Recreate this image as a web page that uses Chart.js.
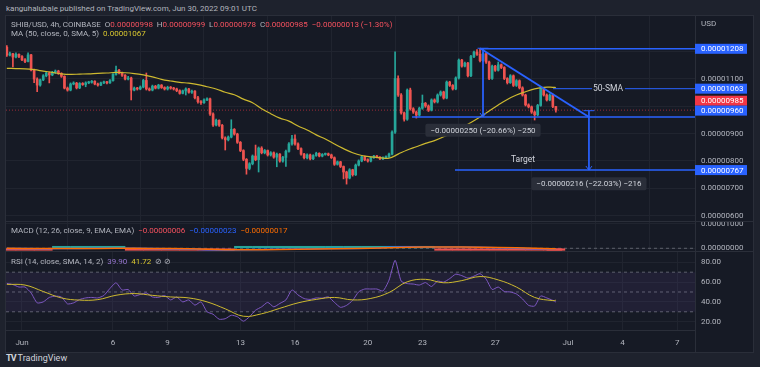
<!DOCTYPE html>
<html>
<head>
<meta charset="utf-8">
<title>SHIB/USD 4h</title>
<script src="https://cdn.jsdelivr.net/npm/chart.js@4.4.1/dist/chart.umd.min.js"></script>
<style>
  body { margin:0; width:760px; height:367px; background:#1e222d; overflow:hidden; position:relative;
         font-family: Roboto, "Noto Sans", sans-serif; color:#b2b5be; }
  .frame { position:absolute; left:5px; top:15px; width:749px; height:338px; background:#2a2e39; }
  canvas { position:absolute; background:#161a25; }
  .txt { position:absolute; font-size:8px; white-space:nowrap; line-height:10px; z-index:2; }
  .vsep { position:absolute; left:695px; top:330px; width:1px; height:22px; background:#2a2e39; z-index:2; }
  .red { color:#f7525f; } .yel { color:#d8c62f; } .blu { color:#2962ff; } .org { color:#ff6d00; } .pur { color:#9575cd; }
</style>
</head>
<body>
<div class="frame"></div>
<canvas id="price" width="747" height="205" style="left:6px;top:16px"></canvas>
<canvas id="macd" width="747" height="29" style="left:6px;top:222px"></canvas>
<canvas id="rsi" width="747" height="100" style="left:6px;top:252px"></canvas>
<div class="vsep"></div>

<div class="txt" style="left:6px;top:4px">kanguhalubale published on TradingView.com, Jun 30, 2022 09:01 UTC</div>
<div class="txt" style="left:11px;top:20px">SHIB/USD, 4h, COINBASE&nbsp; O<span class="red">0.00000998</span>&nbsp; H<span class="red">0.00000999</span>&nbsp; L<span class="red">0.00000978</span>&nbsp; C<span class="red">0.00000985&nbsp; &minus;0.00000013 (&minus;1.30%)</span></div>
<div class="txt" style="left:11px;top:29px">MA (50, close, 0, SMA, 5)&nbsp; <span class="yel">0.00001067</span></div>
<div class="txt" style="left:701px;top:19px">USD</div>
<div class="txt" style="left:11px;top:226px">MACD (12, 26, close, 9, EMA, EMA)&nbsp; <span class="red">&minus;0.00000006</span>&nbsp; <span class="blu">&minus;0.00000023</span>&nbsp; <span class="org">&minus;0.00000017</span></div>
<div class="txt" style="left:11px;top:257px">RSI (14, close, SMA, 14, 2)&nbsp; <span class="pur">39.90</span>&nbsp; <span class="yel">41.72</span>&nbsp; &#8856; &#8856;</div>
<div class="txt" style="left:6px;top:353px;font-size:9px;color:#d1d4dc"><b style="letter-spacing:-1px">TV</b> TradingView</div>

<script>
// price values are in units of 0.00000001 USD
const firstOpen = 1214;
const closes = [
  1185, 1190, 1178, 1188, 1180, 1168, 1162, 1186, 1131, 1098,
  1076, 1095, 1110, 1120, 1113, 1122, 1127, 1118, 1108, 1065,
  1058, 1080, 1083, 1066, 1082, 1078, 1084, 1086, 1090, 1080,
  1076, 1084, 1088, 1084, 1092, 1115, 1130, 1120, 1112, 1098,
  1102, 1058, 1065, 1062, 1069, 1093, 1062, 1058, 1072, 1065,
  1076, 1067, 1062, 1068, 1065, 1062, 1056, 1046, 1055, 1062,
  1050, 1054, 1030, 1016, 1012, 1022, 1026, 971, 931, 948,
  930, 884, 877, 887, 915, 898, 868, 838, 806, 773,
  790, 818, 805, 847, 830, 838, 822, 830, 814, 825,
  800, 813, 835, 862, 880, 862, 845, 825, 812, 822,
  808, 820, 828, 818, 824, 826, 822, 812, 788, 797,
  780, 760, 738, 768, 750, 785, 800, 815, 805, 800,
  812, 818, 814, 808, 812, 816, 825, 905, 1100, 1040,
  975, 952, 1058, 990, 978, 967, 992, 1010, 1000, 985,
  1022, 1015, 1040, 1051, 1029, 1087, 1075, 1062, 1102, 1167,
  1145, 1156, 1110, 1180, 1196, 1188, 1165, 1190, 1160, 1100,
  1145, 1130, 1150, 1140, 1100, 1085, 1110, 1075, 1092, 1066,
  1040, 1004, 997, 978, 968, 1002, 1065, 1040, 1022, 1040,
  998, 985
];
const highs = [
  1220, 1196, 1192, 1193, 1190, 1183, 1172, 1193, 1188, 1134,
  1102, 1098, 1114, 1124, 1124, 1126, 1131, 1130, 1121, 1110,
  1069, 1084, 1088, 1086, 1085, 1085, 1088, 1090, 1093, 1092,
  1083, 1087, 1091, 1090, 1096, 1118, 1145, 1133, 1123, 1114,
  1108, 1105, 1069, 1068, 1073, 1097, 1120, 1066, 1076, 1075,
  1079, 1078, 1070, 1072, 1071, 1068, 1065, 1059, 1058, 1066,
  1064, 1058, 1056, 1035, 1020, 1026, 1030, 1029, 975, 952,
  950, 933, 888, 891, 950, 918, 901, 871, 841, 809,
  794, 822, 858, 851, 852, 842, 840, 834, 833, 829,
  827, 817, 840, 867, 893, 895, 866, 848, 828, 826,
  825, 823, 832, 830, 827, 829, 829, 825, 815, 800,
  799, 782, 763, 772, 770, 789, 804, 818, 818, 808,
  815, 821, 821, 816, 815, 819, 829, 910, 1197, 1110,
  1045, 978, 1062, 1065, 994, 982, 996, 1040, 1013, 1004,
  1026, 1026, 1044, 1055, 1054, 1091, 1090, 1078, 1106, 1171,
  1170, 1160, 1159, 1184, 1200, 1205, 1209, 1194, 1193, 1163,
  1149, 1148, 1160, 1153, 1143, 1103, 1114, 1113, 1096, 1095,
  1070, 1043, 1008, 1000, 982, 1006, 1070, 1068, 1044, 1044,
  1043, 999
];
const lows = [
  1180, 1182, 1142, 1175, 1176, 1165, 1158, 1160, 1128, 1085,
  1052, 1072, 1092, 1106, 1084, 1110, 1118, 1115, 1104, 1062,
  1054, 1055, 1077, 1062, 1063, 1075, 1070, 1081, 1083, 1077,
  1072, 1074, 1081, 1080, 1082, 1090, 1112, 1117, 1108, 1095,
  1095, 1022, 1055, 1058, 1059, 1066, 1058, 1055, 1055, 1062,
  1062, 1064, 1058, 1058, 1061, 1058, 1052, 1043, 1044, 1040,
  1047, 1046, 1026, 1010, 1006, 1009, 1019, 966, 926, 928,
  926, 880, 840, 873, 884, 894, 864, 834, 801, 752,
  768, 786, 801, 760, 826, 826, 818, 818, 810, 779,
  796, 796, 780, 832, 858, 858, 841, 821, 808, 808,
  804, 805, 817, 815, 815, 821, 819, 809, 784, 785,
  776, 735, 716, 735, 745, 747, 782, 797, 801, 796,
  797, 809, 811, 805, 805, 809, 812, 822, 900, 1035,
  970, 945, 948, 985, 973, 956, 963, 988, 995, 980,
  982, 1011, 1011, 1036, 1025, 1026, 1071, 1058, 1059, 1098,
  1141, 1142, 1106, 1107, 1176, 1184, 1160, 1162, 1155, 1096,
  1097, 1126, 1127, 1136, 1096, 1080, 1082, 1071, 1071, 1062,
  1036, 1000, 993, 973, 949, 964, 999, 1036, 1018, 1019,
  994, 978
];
// MA(50) read every 3 candles, last value on the last candle
const maValues = [
  1137, 1136, 1135, 1132, 1127, 1122, 1117, 1115, 1116, 1117,
  1119, 1120, 1122, 1121, 1118, 1113, 1106, 1097, 1091, 1086,
  1083, 1078, 1070, 1062, 1050, 1041, 1025, 1012, 990, 972,
  956, 945, 927, 913, 895, 880, 862, 845, 830, 820,
  815, 812, 810, 825, 840, 852, 864, 874, 888, 905,
  922, 940, 960, 982, 1004, 1024, 1040, 1052, 1062, 1068,
  1068, 1067
];
// RSI read every 2 candles, RSI-MA every 6 candles
const rsiValues = [
  58.7, 57.5, 55, 55, 49, 39, 40, 44.5, 45.8, 45,
  38, 39, 42.4, 44, 44.5, 44, 46.5, 53.6, 59.3, 52,
  52.5, 46, 47.5, 49, 45, 44.5, 46.5, 42, 45, 40,
  42, 36.7, 40, 30, 27.5, 22.5, 23, 26.5, 25, 20.5,
  25, 31.6, 35, 39.5, 35, 38.4, 42, 52, 47, 43.4,
  42.5, 44, 43.8, 45, 39.5, 34.5, 36.5, 41.5, 50.2, 53,
  53, 53, 51, 62, 82, 61, 58.5, 58, 57, 59.5,
  55.5, 61, 60, 63.5, 68, 66.5, 64, 66, 68.5, 63,
  52.5, 55, 50.5, 50, 48, 43, 36.5, 35.8, 46, 44,
  41.5, 39.9
];
const rsiMaValues = [
  57.7, 57, 50.5, 44, 41.8, 42.3, 46.7, 48.4, 46.6, 45,
  44, 40, 33, 25.5, 28, 33.5, 39, 42.5, 44.5, 42,
  43.5, 49.5, 60.3, 62.8, 59.3, 61.5, 65.6, 62.2, 55, 44.5,
  41.3, 41.72
];
// MACD every 6 candles
const macdValues = [-5, -12, -15, -10, -5, -2, 0, -3, -8, -15, -30, -55, -70, -60, -45, -35,
  -25, -18, -12, -5, 5, 45, 60, 55, 50, 48, 40, 20, 5, -15, -23, -23];
const signalValues = [-3, -8, -12, -12, -8, -4, -1, -1, -5, -10, -20, -40, -58, -62, -55, -45,
  -35, -25, -18, -10, -2, 20, 40, 50, 52, 50, 45, 32, 18, 0, -15, -17];
const histValues = [-2, -4, -3, 2, 3, 2, 1, -2, -3, -5, -10, -15, -12, 2, 10, 10,
  10, 7, 6, 5, 7, 25, 20, 5, -2, -2, -5, -12, -13, -15, -8, -6];

const tickDays = [1, 6, 9, 13, 16, 20, 23, 27, 31, 34, 37];
const tickLabels = ['Jun', '6', '9', '13', '16', '20', '23', '27', 'Jul', '4', '7'];
const priceTicks = [600, 700, 800, 900, 1000, 1100, 1200];
const hiddenPriceTicks = [1000, 1200];

// drawings (day of June, price)
const X_MIN = 0.121, X_MAX = 37.978;
const arrows = [
  { day: 26.33, from: 1210, to: 960 },
  { day: 32.15, from: 983, to: 767 }
];
const notes = [
  { day: 33.2, value: 1063, text: '50-SMA' },
  { day: 28.53, value: 804, text: 'Target' }
];
const measureBoxes = [
  { day: 26.33, value: 912, text: '\u22120.00000250 (\u221220.66%) \u2212250' },
  { day: 32.15, value: 717, text: '\u22120.00000216 (\u221222.03%) \u2212216' }
];
const axisMarks = [
  { value: 1208, color: '#2962ff', nudge: 0 },
  { value: 1063, color: '#2962ff', nudge: 0 },
  { value: 985, color: '#f23645', nudge: -9.4 },
  { value: 960, color: '#2962ff', nudge: -6.4 },
  { value: 767, color: '#2962ff', nudge: 0 }
];

const BLUE = '#2962ff', TEAL = '#26a69a', CRED = '#ef5350', YELLOW = '#cdb92f';
const GRID = '#20242f', BORDER = '#2a2e39', TXT = '#b2b5be';
Chart.defaults.font.family = 'Roboto';
Chart.defaults.font.size = 8;
Chart.defaults.color = TXT;

const t = i => (1 + i) / 6;
const lastIdx = closes.length - 1;
const sampled = (vals, step) => vals.map((v, k) => ({ x: t(Math.min(k * step, lastIdx)), y: v }));
const fmt = v => (v / 1e8).toFixed(8);

const opens = closes.map((c, i) => i === 0 ? firstOpen : closes[i - 1]);
const candleColors = closes.map((c, i) => c >= opens[i] ? TEAL : CRED);

function seg(points, color, width, dash, order) {
  return { type: 'line', data: points, borderColor: color, borderWidth: width, borderDash: dash || [],
    pointRadius: 0, order: order, spanGaps: false, fill: false, tension: 0 };
}

function xScale(showLabels) {
  return {
    type: 'linear', min: X_MIN, max: X_MAX, offset: false,
    afterBuildTicks: s => { s.ticks = tickDays.map(v => ({ value: v })); },
    ticks: { display: showLabels, autoSkip: false, maxRotation: 0, padding: 8, callback: (v, i) => tickLabels[i] },
    grid: { color: GRID, drawTicks: false },
    border: { display: showLabels, color: BORDER },
    afterFit: s => { s.paddingLeft = 0; s.paddingRight = 0; s.height = showLabels ? 22 : 0; }
  };
}

function yScale(min, max, ticks, label) {
  return {
    position: 'right', min: min, max: max,
    afterBuildTicks: s => { s.ticks = ticks.map(v => ({ value: v })); },
    ticks: { padding: 6, callback: label },
    grid: { color: GRID, drawTicks: false },
    border: { color: BORDER },
    afterFit: s => { s.width = 58; s.paddingTop = 0; s.paddingBottom = 0; }
  };
}

const baseOptions = {
  responsive: false, animation: false, devicePixelRatio: 1, events: [],
  layout: { padding: 0 },
  plugins: { legend: { display: false }, tooltip: { enabled: false } }
};

const priceNotes = {
  id: 'priceNotes',
  afterDatasetsDraw(chart) {
    const { ctx, scales: { x, y } } = chart;
    ctx.save();
    ctx.strokeStyle = BLUE;
    ctx.lineWidth = 1;
    arrows.forEach(a => {
      const px = x.getPixelForValue(a.day), py = y.getPixelForValue(a.to);
      ctx.beginPath();
      ctx.moveTo(px - 3, py - 4); ctx.lineTo(px, py); ctx.lineTo(px + 3, py - 4);
      ctx.stroke();
    });
    ctx.textAlign = 'center';
    ctx.textBaseline = 'middle';
    ctx.font = '8.5px Roboto';
    ctx.fillStyle = '#d1d4dc';
    notes.forEach(n => ctx.fillText(n.text, x.getPixelForValue(n.day), y.getPixelForValue(n.value)));
    ctx.font = '8px Roboto';
    measureBoxes.forEach(b => {
      const cx = x.getPixelForValue(b.day), cy = y.getPixelForValue(b.value);
      const w = ctx.measureText(b.text).width + 10, h = 13;
      ctx.fillStyle = '#2a2e39';
      ctx.beginPath();
      ctx.roundRect(cx - w / 2, cy - h / 2, w, h, 2);
      ctx.fill();
      ctx.fillStyle = '#d1d4dc';
      ctx.fillText(b.text, cx, cy + 0.5);
    });
    ctx.restore();
  },
  afterDraw(chart) {
    const { ctx, chartArea, scales: { y } } = chart;
    ctx.save();
    ctx.font = '8px Roboto';
    ctx.textBaseline = 'middle';
    ctx.textAlign = 'left';
    axisMarks.forEach(m => {
      const cy = y.getPixelForValue(m.value) + m.nudge;
      ctx.fillStyle = m.color;
      ctx.fillRect(chartArea.right, cy - 5, 52, 10);
      ctx.fillStyle = '#ffffff';
      ctx.fillText(fmt(m.value), chartArea.right + 6, cy + 0.5);
    });
    ctx.restore();
  }
};

const lastClose = closes[lastIdx];

new Chart(document.getElementById('price'), {
  type: 'bar',
  data: {
    datasets: [
      seg([{ x: 26.165, y: 1208 }, { x: X_MAX, y: 1208 }], BLUE, 1.5, null, 0),
      seg([{ x: 26.165, y: 1210 }, { x: 32.15, y: 960 }], BLUE, 2, null, 0),
      seg([{ x: 22.43, y: 960 }, { x: X_MAX, y: 960 }], BLUE, 1.5, null, 0),
      seg([{ x: 24.79, y: 767 }, { x: X_MAX, y: 767 }], BLUE, 1.5, null, 0),
      seg([{ x: 30.18, y: 1063 }, { x: 32.32, y: 1063 }, { x: 33.2, y: null }, { x: 34.13, y: 1063 }, { x: X_MAX, y: 1063 }], BLUE, 1, null, 0),
      seg([{ x: arrows[0].day, y: arrows[0].from }, { x: arrows[0].day, y: arrows[0].to }], BLUE, 1, null, 0),
      seg([{ x: arrows[1].day, y: arrows[1].from }, { x: arrows[1].day, y: arrows[1].to }], BLUE, 1, null, 0),
      seg([{ x: arrows[0].day - 0.3, y: arrows[0].from }, { x: arrows[0].day + 0.3, y: arrows[0].from }], BLUE, 1, null, 0),
      seg([{ x: arrows[1].day - 0.3, y: arrows[1].from }, { x: arrows[1].day + 0.3, y: arrows[1].from }], BLUE, 1, null, 0),
      { type: 'line', data: sampled(maValues, 3), borderColor: YELLOW, borderWidth: 1.2,
        pointRadius: 0, tension: 0.4, order: 5 },
      { type: 'bar', data: closes.map((c, i) => ({ x: t(i), y: [opens[i], c] })),
        backgroundColor: candleColors, barThickness: 2, minBarLength: 1, grouped: false, order: 6 },
      { type: 'bar', data: closes.map((c, i) => ({ x: t(i), y: [lows[i], highs[i]] })),
        backgroundColor: candleColors, barThickness: 1, grouped: false, order: 7 },
      seg([{ x: X_MIN, y: lastClose }, { x: X_MAX, y: lastClose }], 'rgba(242,54,69,0.6)', 1, [1, 2], 8)
    ]
  },
  options: Object.assign({}, baseOptions, {
    scales: {
      x: xScale(false),
      y: yScale(581.8, 1327.3, priceTicks, v => hiddenPriceTicks.includes(v) ? '' : fmt(v))
    }
  }),
  plugins: [priceNotes]
});

new Chart(document.getElementById('macd'), {
  type: 'bar',
  data: {
    datasets: [
      { type: 'line', data: sampled(signalValues, 6), borderColor: '#ff6d00', borderWidth: 1.5, pointRadius: 0, order: 0 },
      { type: 'line', data: sampled(macdValues, 6), borderColor: BLUE, borderWidth: 1.5, pointRadius: 0, order: 1 },
      { type: 'bar', data: sampled(histValues, 6), barThickness: 18, minBarLength: 2, grouped: false, order: 2,
        backgroundColor: histValues.map(v => v >= 0 ? TEAL : CRED) },
      seg([{ x: X_MIN, y: 0 }, { x: X_MAX, y: 0 }], '#5d606b', 1, [3, 3], 3)
    ]
  },
  options: Object.assign({}, baseOptions, {
    scales: {
      x: xScale(false),
      y: yScale(-111, 1078, [0, 1000], v => fmt(v))
    }
  })
});

new Chart(document.getElementById('rsi'), {
  type: 'line',
  data: {
    datasets: [
      { data: sampled(rsiMaValues, 6), borderColor: YELLOW, borderWidth: 1, pointRadius: 0, tension: 0.4, order: 0 },
      { data: sampled(rsiValues, 2), borderColor: '#7e57c2', borderWidth: 1, pointRadius: 0, tension: 0.2, order: 1 },
      { data: [{ x: X_MIN, y: 70 }, { x: X_MAX, y: 70 }], borderColor: '#5d606b', borderWidth: 1, borderDash: [3, 3],
        pointRadius: 0, fill: { value: 30 }, backgroundColor: 'rgba(126,87,194,0.1)', order: 3 },
      seg([{ x: X_MIN, y: 50 }, { x: X_MAX, y: 50 }], '#5d606b', 1, [3, 3], 3),
      seg([{ x: X_MIN, y: 30 }, { x: X_MAX, y: 30 }], '#5d606b', 1, [3, 3], 3)
    ]
  },
  options: Object.assign({}, baseOptions, {
    scales: {
      x: xScale(true),
      y: yScale(11.6, 90.4, [20, 40, 60, 80], v => v.toFixed(2))
    }
  })
});
</script>
</body>
</html>
